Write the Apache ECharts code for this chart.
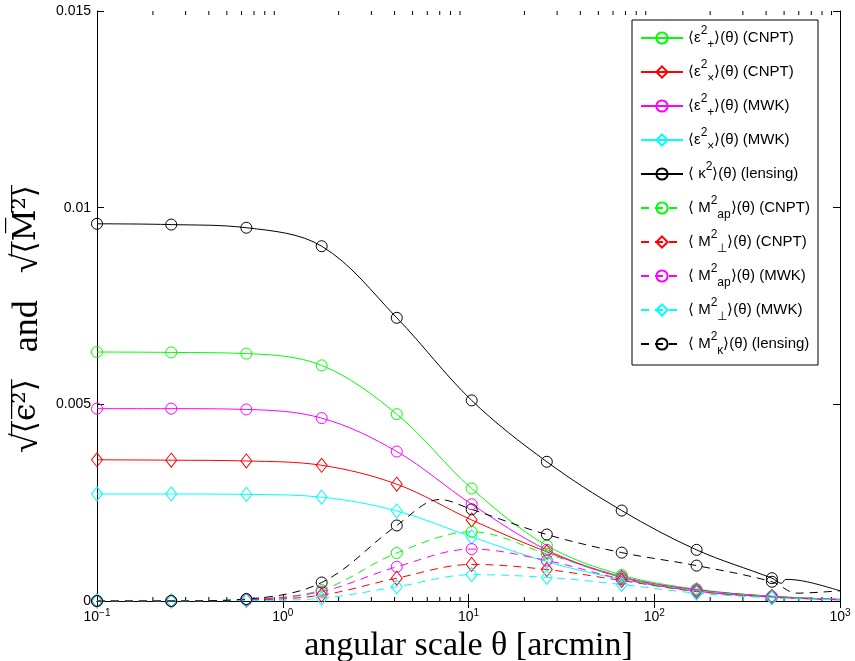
<!DOCTYPE html>
<html>
<head>
<meta charset="utf-8">
<script src="https://cdn.jsdelivr.net/npm/echarts@6/dist/echarts.min.js"></script>
<style>
  html, body { margin: 0; padding: 0; background: #fff; }
  #chart { width: 855px; height: 661px; }
</style>
</head>
<body>
<div id="chart"></div>
<script>
// angular scale theta [arcmin]; the last point (1000) has no marker
const theta = [0.1, 0.251, 0.637, 1.62, 4.11, 10.4, 26.4, 66.8, 169, 430, 1000];

// solid curves
const epsPlusCNPT  = [0.00633, 0.00632, 0.00629, 0.00599, 0.00475, 0.00286, 0.00141, 0.00066, 0.00030, 0.00012, 0.00004];
const epsCrossCNPT = [0.00359, 0.00358, 0.00356, 0.00345, 0.00297, 0.00206, 0.00125, 0.00060, 0.00028, 0.00012, 0.00004];
const epsPlusMWK   = [0.00489, 0.00489, 0.00487, 0.00465, 0.00380, 0.00246, 0.00130, 0.00062, 0.00028, 0.00011, 0.00004];
const epsCrossMWK  = [0.00272, 0.00272, 0.00271, 0.00264, 0.00229, 0.00163, 0.00100, 0.00055, 0.00026, 0.00011, 0.00004];
const kappaLens    = [0.00959, 0.00957, 0.00949, 0.00902, 0.00720, 0.00510, 0.00354, 0.00230, 0.00130, 0.00058, 0.00026];

// dashed curves
const mapCNPT      = [0, 0, 0.00004, 0.00028, 0.00122, 0.00176, 0.00120, 0.00060, 0.00026, 0.00010, 0.00003];
const mPerpCNPT    = [0, 0, 0.00002, 0.00015, 0.00058, 0.00093, 0.00080, 0.00052, 0.00024, 0.00010, 0.00003];
const mapMWK       = [0, 0, 0.00003, 0.00024, 0.00087, 0.00132, 0.00103, 0.00056, 0.00025, 0.00010, 0.00003];
const mPerpMWK     = [0, 0, 0.00001, 0.00007, 0.00036, 0.00067, 0.00060, 0.00042, 0.00020, 0.00008, 0.00003];
const mKappaLens   = [0, 0, 0.00005, 0.00047, 0.00192, 0.00233, 0.00169, 0.00123, 0.00090, 0.00049, 0.00026];

// extra unmarked points
const kappaExtraX  = [485, 510, 662];
const kappaExtraY  = [0.00045, 0.00055, 0.00049];
const mKappaExtraX = [7.0, 585];
const mKappaExtraY = [0.00258, 0.00020];

const yTicks = [0, 0.005, 0.01, 0.015];
const minorTheta = [0.2, 0.3, 0.4, 0.5, 0.6, 0.7, 0.8, 0.9,
                    2, 3, 4, 5, 6, 7, 8, 9,
                    20, 30, 40, 50, 60, 70, 80, 90,
                    200, 300, 400, 500, 600, 700, 800, 900];

const legendLabels = {
  epsPlusCNPT:  '⟨ε{sp|2}{sb|+}⟩(θ) (CNPT)',
  epsCrossCNPT: '⟨ε{sp|2}{sb|×}⟩(θ) (CNPT)',
  epsPlusMWK:   '⟨ε{sp|2}{sb|+}⟩(θ) (MWK)',
  epsCrossMWK:  '⟨ε{sp|2}{sb|×}⟩(θ) (MWK)',
  kappaLens:    '⟨ κ{sp|2}⟩(θ) (lensing)',
  mapCNPT:      '⟨ M{sp|2}{sb|ap}⟩(θ) (CNPT)',
  mPerpCNPT:    '⟨ M{sp|2}{sb|⊥}⟩(θ) (CNPT)',
  mapMWK:       '⟨ M{sp|2}{sb|ap}⟩(θ) (MWK)',
  mPerpMWK:     '⟨ M{sp|2}{sb|⊥}⟩(θ) (MWK)',
  mKappaLens:   '⟨ M{sp|2}{sb|κ}⟩(θ) (lensing)'
};

function buildData(ys, extraX, extraY) {
  const pts = theta.map((t, i) => ({
    value: [t, ys[i]],
    symbol: i === theta.length - 1 ? 'none' : undefined
  }));
  (extraX || []).forEach((x, i) => pts.push({ value: [x, extraY[i]], symbol: 'none' }));
  pts.sort((a, b) => a.value[0] - b.value[0]);
  return pts;
}

function makeSeries(name, ys, color, marker, dashed, extraX, extraY) {
  return {
    name: name,
    type: 'line',
    xAxisIndex: 0,
    yAxisIndex: 0,
    smooth: 0.35,
    data: buildData(ys, extraX, extraY),
    symbol: marker,
    symbolSize: marker === 'diamond' ? [11, 14] : 11,
    lineStyle: { color: color, width: 1, type: dashed ? [8, 6] : 'solid' },
    itemStyle: { color: 'rgba(0,0,0,0)', borderColor: color, borderWidth: 1 },
    emphasis: { disabled: true },
    z: 3
  };
}

const myChart = echarts.init(document.getElementById('chart'));

const option = {
  animation: false,
  backgroundColor: '#fff',
  grid: { left: 97, right: 15, top: 11, bottom: 60, outerBoundsMode: 'none' },
  legend: {
    orient: 'vertical',
    left: 632,
    top: 20,
    width: 199,
    padding: [5, 8, 8, 8],
    itemGap: 8,
    itemWidth: 42,
    itemHeight: 14,
    backgroundColor: '#fff',
    borderColor: '#000',
    borderWidth: 1,
    borderRadius: 0,
    selectedMode: false,
    data: Object.keys(legendLabels),
    formatter: name => legendLabels[name],
    textStyle: {
      fontFamily: 'Liberation Sans',
      fontSize: 15,
      color: '#000',
      lineHeight: 26,
      rich: {
        sp: { fontFamily: 'Liberation Sans', fontSize: 12, verticalAlign: 'top', lineHeight: 26, color: '#000' },
        sb: { fontFamily: 'Liberation Sans', fontSize: 12, verticalAlign: 'bottom', lineHeight: 26, color: '#000' }
      }
    }
  },
  xAxis: [
    {
      type: 'log',
      logBase: 10,
      min: 0.1,
      max: 1000,
      position: 'bottom',
      name: 'angular scale θ [arcmin]',
      nameLocation: 'middle',
      nameGap: 22,
      nameTextStyle: { fontFamily: 'Liberation Serif', fontSize: 34, color: '#000' },
      axisLine: { lineStyle: { color: '#000', width: 1 } },
      axisTick: { inside: true, length: 7, lineStyle: { color: '#000' } },
      splitLine: { show: false },
      axisLabel: {
        margin: 7,
        color: '#000',
        fontFamily: 'Liberation Sans',
        fontSize: 14,
        formatter: v => '10{s|' + String(Math.round(Math.log10(v))).replace('-', '−') + '}',
        rich: { s: { fontSize: 10, verticalAlign: 'top', padding: [0, 0, 8, 0] } }
      }
    },
    {
      type: 'log',
      logBase: 10,
      min: 0.1,
      max: 1000,
      position: 'top',
      axisLine: { lineStyle: { color: '#000', width: 1 } },
      axisTick: { inside: true, length: 7, lineStyle: { color: '#000' } },
      axisLabel: { show: false },
      splitLine: { show: false }
    }
  ],
  yAxis: [
    {
      type: 'value',
      min: 0,
      max: 0.015,
      interval: 0.005,
      position: 'left',
      name: '√{o|⟨̅ϵ̅²̅⟩̅}   and   √{o|⟨̅M̅²̅⟩̅}',
      nameLocation: 'middle',
      nameRotate: 90,
      nameGap: 44,
      nameTextStyle: {
        fontFamily: 'Liberation Serif',
        fontSize: 36,
        color: '#000',
        padding: [0, 26, 0, 0],
        rich: { o: { fontFamily: 'DejaVu Serif', fontSize: 31, color: '#000' } }
      },
      axisLine: { show: true, lineStyle: { color: '#000', width: 1 } },
      axisTick: { show: true, inside: true, length: 7, lineStyle: { color: '#000' } },
      splitLine: { show: false },
      axisLabel: {
        margin: 6,
        color: '#000',
        fontFamily: 'Liberation Sans',
        fontSize: 14,
        formatter: v => {
          const i = yTicks.findIndex(t => Math.abs(t - v) < 1e-9);
          return i >= 0 ? String(yTicks[i]) : '';
        }
      }
    },
    {
      type: 'value',
      min: 0,
      max: 0.015,
      interval: 0.005,
      position: 'right',
      axisLine: { show: true, lineStyle: { color: '#000', width: 1 } },
      axisTick: { show: true, inside: true, length: 7, lineStyle: { color: '#000' } },
      axisLabel: { show: false },
      splitLine: { show: false }
    }
  ],
  series: [
    makeSeries('epsPlusCNPT', epsPlusCNPT, '#00ff00', 'circle', false),
    makeSeries('epsCrossCNPT', epsCrossCNPT, '#ff0000', 'diamond', false),
    makeSeries('epsPlusMWK', epsPlusMWK, '#ff00ff', 'circle', false),
    makeSeries('epsCrossMWK', epsCrossMWK, '#00ffff', 'diamond', false),
    makeSeries('kappaLens', kappaLens, '#000000', 'circle', false, kappaExtraX, kappaExtraY),
    makeSeries('mapCNPT', mapCNPT, '#00ff00', 'circle', true),
    makeSeries('mPerpCNPT', mPerpCNPT, '#ff0000', 'diamond', true),
    makeSeries('mapMWK', mapMWK, '#ff00ff', 'circle', true),
    makeSeries('mPerpMWK', mPerpMWK, '#00ffff', 'diamond', true),
    makeSeries('mKappaLens', mKappaLens, '#000000', 'circle', true, mKappaExtraX, mKappaExtraY),
    {
      // minor log ticks on bottom and top axes
      type: 'custom',
      xAxisIndex: 0,
      yAxisIndex: 0,
      silent: true,
      clip: false,
      data: minorTheta.map(t => [t, 0]),
      renderItem: (params, api) => {
        const b = api.coord([api.value(0), 0]);
        const t = api.coord([api.value(0), 0.015]);
        return {
          type: 'group',
          children: [
            { type: 'line', shape: { x1: b[0], y1: b[1], x2: b[0], y2: b[1] - 4 }, style: { stroke: '#000', lineWidth: 1 } },
            { type: 'line', shape: { x1: t[0], y1: t[1], x2: t[0], y2: t[1] + 4 }, style: { stroke: '#000', lineWidth: 1 } }
          ]
        };
      }
    }
  ]
};

myChart.setOption(option);
window.addEventListener('resize', function () {
  myChart.resize();
});
</script>
</body>
</html>
